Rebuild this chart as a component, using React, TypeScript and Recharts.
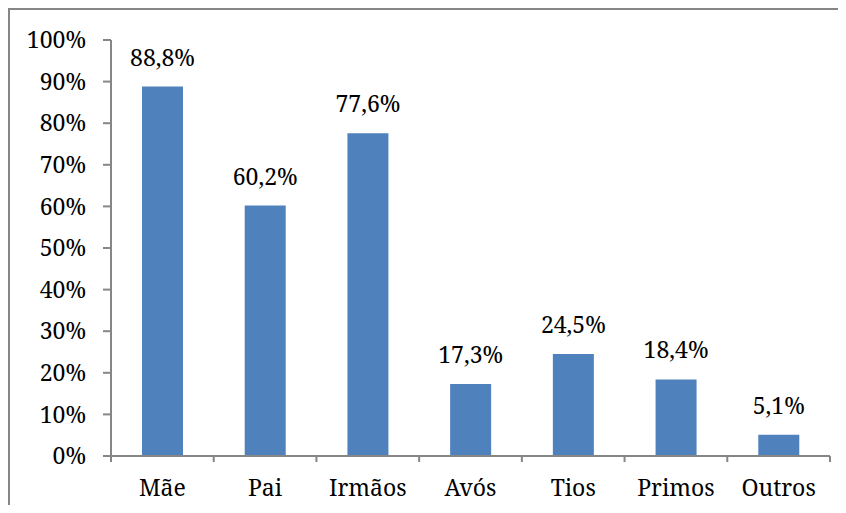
import React from "react";
import { BarChart, Bar, XAxis, YAxis, LabelList } from "recharts";

const categories = ["Mãe", "Pai", "Irmãos", "Avós", "Tios", "Primos", "Outros"];
const values = [88.8, 60.2, 77.6, 17.3, 24.5, 18.4, 5.1];
const yTicks = [0, 10, 20, 30, 40, 50, 60, 70, 80, 90, 100];

const data = categories.map((name, i) => ({ name, value: values[i] }));

const FONT = "'Noto Serif', 'DejaVu Serif'";
const AXIS = "#868686";
const FS = 23;

const fmt = (v: number) => v.toFixed(1).replace(".", ",") + "%";

const XTick = (props: any) => {
  const { x, y, payload, index, visibleTicksCount } = props;
  const off = payload.offset ?? 0;
  const axisY = y - 24;
  return (
    <g>
      <line x1={x - off} x2={x - off} y1={axisY} y2={axisY + 6} stroke={AXIS} strokeWidth={2} />
      {index === visibleTicksCount - 1 && (
        <line x1={x + off} x2={x + off} y1={axisY} y2={axisY + 6} stroke={AXIS} strokeWidth={2} />
      )}
      <text x={x} y={y} dy="0.71em" textAnchor="middle" fill="#000" fontSize={FS} fontFamily={FONT}>
        {payload.value}
      </text>
    </g>
  );
};

export default function App() {
  return (
    <div style={{ position: "relative", width: 838, height: 497, background: "#fff" }}>
      <div style={{ position: "absolute", left: 0, top: 0, width: 838, height: 2, background: AXIS }} />
      <div style={{ position: "absolute", left: 0, top: 0, width: 2, height: 497, background: AXIS }} />
      <div style={{ position: "absolute", left: 2, top: 2 }}>
        <BarChart
          width={836}
          height={495}
          data={data}
          margin={{ top: 30, right: 16, bottom: 0, left: 0 }}
        >
          <XAxis
            dataKey="name"
            height={49}
            axisLine={{ stroke: AXIS, strokeWidth: 2 }}
            tickLine={false}
            tickSize={6}
            tickMargin={18}
            tick={<XTick />}
            interval={0}
          />
          <YAxis
            width={101}
            domain={[0, 100]}
            ticks={yTicks}
            interval={0}
            tickFormatter={(v: number) => `${v}%`}
            axisLine={{ stroke: AXIS, strokeWidth: 2 }}
            tickLine={{ stroke: AXIS, strokeWidth: 2 }}
            tickSize={8}
            tickMargin={17}
            tick={{ fill: "#000", fontSize: FS, fontFamily: FONT }}
          />
          <Bar dataKey="value" fill="#4F81BD" barSize={41} isAnimationActive={false}>
            <LabelList
              dataKey="value"
              position="top"
              offset={21}
              formatter={(v: any) => fmt(Number(v))}
              fontFamily={FONT}
              fontSize={FS}
              fill="#000"
            />
          </Bar>
        </BarChart>
      </div>
    </div>
  );
}
